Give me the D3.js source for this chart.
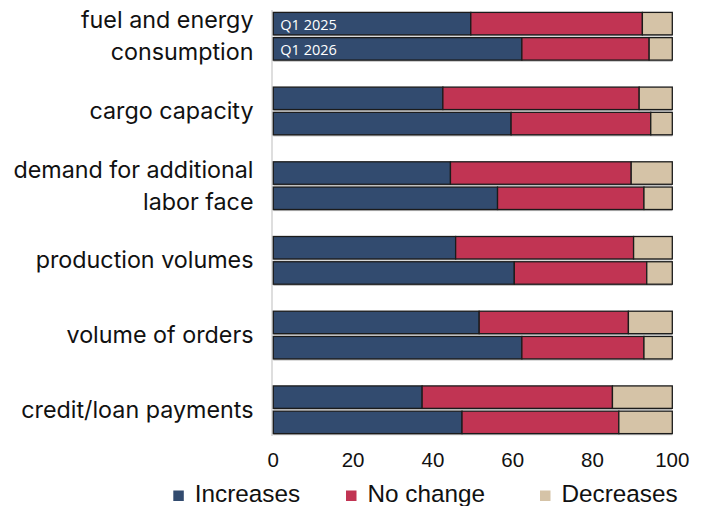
<!DOCTYPE html>
<html>
<head>
<meta charset="utf-8">
<script src="https://cdn.jsdelivr.net/npm/d3@7"></script>
<style>
  html, body { margin: 0; padding: 0; background: #ffffff; }
  svg { display: block; }
</style>
</head>
<body>
<svg id="chart" width="706" height="506"></svg>
<script>
// ---- data ----
const categories = [
  "fuel and energy\nconsumption",
  "cargo capacity",
  "demand for additional\nlabor face",
  "production volumes",
  "volume of orders",
  "credit/loan payments"
];
const periods = ["Q1 2025", "Q1 2026"];
const seriesNames = ["Increases", "No change", "Decreases"];

const increases2025 = [49.5, 42.5, 44.4, 45.7, 51.6, 37.3];
const noChange2025  = [43.0, 49.2, 45.3, 44.6, 37.4, 47.7];
const decreases2025 = [7.5, 8.3, 10.3, 9.7, 11.0, 15.0];

const increases2026 = [62.3, 59.6, 56.2, 60.4, 62.3, 47.3];
const noChange2026  = [31.9, 35.0, 36.7, 33.2, 30.6, 39.3];
const decreases2026 = [5.8, 5.4, 7.1, 6.4, 7.1, 13.4];

const xTicks = [0, 20, 40, 60, 80, 100];
const colors = ["#324b6f", "#c13453", "#d5c3a7"];

// ---- build rows ----
const rows = [];
categories.forEach((c, i) => {
  rows.push({cat: c, period: periods[0], "Increases": increases2025[i], "No change": noChange2025[i], "Decreases": decreases2025[i]});
  rows.push({cat: c, period: periods[1], "Increases": increases2026[i], "No change": noChange2026[i], "Decreases": decreases2026[i]});
});
const stacked = d3.stack().keys(seriesNames)(rows);

// ---- scales ----
const svg = d3.select("#chart");
const x = d3.scaleLinear().domain([0, 100]).range([273.3, 672.3]);
const y0 = d3.scaleBand().domain(categories).range([10, 436]).paddingInner(0.3614).paddingOuter(0.032);
const y1 = d3.scaleBand().domain(periods).range([0, y0.bandwidth()]).paddingInner(0.11).paddingOuter(0);
const color = d3.scaleOrdinal().domain(seriesNames).range(colors);
const yPos = d => y0(d.data.cat) + y1(d.data.period);

// left axis line
svg.append("line")
  .attr("x1", 272).attr("x2", 272)
  .attr("y1", 10).attr("y2", 436)
  .attr("stroke", "#dedede").attr("stroke-width", 2);

// bar shadows
svg.append("g").selectAll("rect").data(rows).join("rect")
  .attr("x", x(0))
  .attr("y", d => y0(d.cat) + y1(d.period) + 1.6)
  .attr("width", x(100) - x(0))
  .attr("height", y1.bandwidth())
  .attr("fill", "#b8b8b8");

// bars
svg.append("g").selectAll("g").data(stacked).join("g")
  .attr("fill", d => color(d.key))
  .selectAll("rect").data(d => d).join("rect")
  .attr("x", d => x(d[0]))
  .attr("y", d => yPos(d))
  .attr("width", d => x(d[1]) - x(d[0]))
  .attr("height", y1.bandwidth())
  .attr("stroke", "#1b1b1b")
  .attr("stroke-width", 1.3);

// period labels inside first group
svg.append("g").selectAll("text").data(periods).join("text")
  .attr("x", x(0) + 7)
  .attr("y", p => y0(categories[0]) + y1(p) + y1.bandwidth() / 2 + 6.5)
  .attr("fill", "#ffffff")
  .attr("font-family", "'Open Sans', sans-serif")
  .attr("font-size", 14.5)
  .text(p => p);

// category labels
const catG = svg.append("g");
categories.forEach(c => {
  const lines = c.split("\n");
  const cy = y0(c) + y0.bandwidth() / 2 + 8;
  const lh = 32;
  const t = catG.append("text")
    .attr("text-anchor", "end")
    .attr("font-family", "Inter, sans-serif")
    .attr("font-size", 23.3)
    .attr("fill", "#111");
  lines.forEach((ln, k) => {
    t.append("tspan")
      .attr("x", 253.5)
      .attr("y", cy + (k - (lines.length - 1) / 2) * lh)
      .text(ln);
  });
});

// x axis tick labels
svg.append("g").selectAll("text").data(xTicks).join("text")
  .attr("x", d => x(d))
  .attr("y", 466.5)
  .attr("text-anchor", "middle")
  .attr("font-family", "'Liberation Sans', Arial, sans-serif")
  .attr("font-size", 20.5)
  .attr("fill", "#111")
  .text(d => d);

// legend
const legX = [173.3, 346, 540];
const leg = svg.append("g");
seriesNames.forEach((s, i) => {
  leg.append("rect")
    .attr("x", legX[i]).attr("y", 490.5)
    .attr("width", 10.5).attr("height", 10.5)
    .attr("fill", color(s));
  leg.append("text")
    .attr("x", legX[i] + 21.5).attr("y", 501.5)
    .attr("font-family", "'Liberation Sans', Arial, sans-serif")
    .attr("font-size", 24.3)
    .attr("fill", "#111")
    .text(s);
});
</script>
</body>
</html>
